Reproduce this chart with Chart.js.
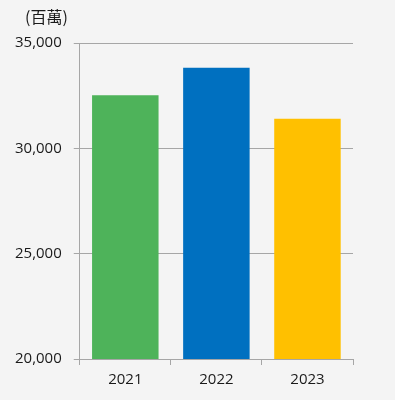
<!DOCTYPE html>
<html>
<head>
<meta charset="utf-8">
<script src="https://cdn.jsdelivr.net/npm/chart.js@4"></script>
<style>
  html, body { margin: 0; padding: 0; background: #f4f4f4; }
  #wrap { width: 395px; height: 400px; }
</style>
</head>
<body>
<div id="wrap"><canvas id="revChart"></canvas></div>
<script>
// data
const years = ['2021', '2022', '2023'];
const revenue = [32520, 33820, 31410];
const barColors = ['#4eb35a', '#0070c0', '#ffc000'];
const unitLabel = '(百萬)';

const gridColor = '#a6a6a6';
const textColor = '#1a1a1a';
const tickFont = { family: "'Open Sans', sans-serif", size: 15 };

// draws the unit label in the top-left corner
const unitPlugin = {
    id: 'unitLabel',
    afterDraw(chart) {
        const ctx = chart.ctx;
        ctx.save();
        ctx.font = "16px 'Noto Sans CJK TC', 'Open Sans', sans-serif";
        ctx.fillStyle = textColor;
        ctx.textAlign = 'left';
        ctx.textBaseline = 'middle';
        ctx.fillText(unitLabel, 25, 17);
        ctx.restore();
    }
};

const ctx = document.getElementById('revChart').getContext('2d');
new Chart(ctx, {
    type: 'bar',
    data: {
        labels: years,
        datasets: [{
            data: revenue,
            backgroundColor: barColors,
            borderWidth: 0,
            categoryPercentage: 1,
            barPercentage: 0.73
        }]
    },
    options: {
        responsive: true,
        maintainAspectRatio: false,
        animation: false,
        layout: { padding: { top: 43, right: 42, bottom: 5, left: 3 } },
        scales: {
            x: {
                grid: {
                    offset: true,
                    drawOnChartArea: false,
                    drawTicks: true,
                    tickLength: 6,
                    color: gridColor
                },
                border: { display: true, color: gridColor },
                ticks: { color: textColor, font: tickFont, padding: 6 }
            },
            y: {
                min: 20000,
                max: 35000,
                grid: { color: gridColor, tickLength: 6 },
                border: { display: true, color: gridColor },
                ticks: {
                    stepSize: 5000,
                    color: textColor,
                    font: tickFont,
                    padding: 12,
                    callback: v => v.toLocaleString('en-US')
                }
            }
        },
        plugins: {
            legend: { display: false },
            tooltip: { enabled: false }
        }
    },
    plugins: [unitPlugin]
});
</script>
</body>
</html>
